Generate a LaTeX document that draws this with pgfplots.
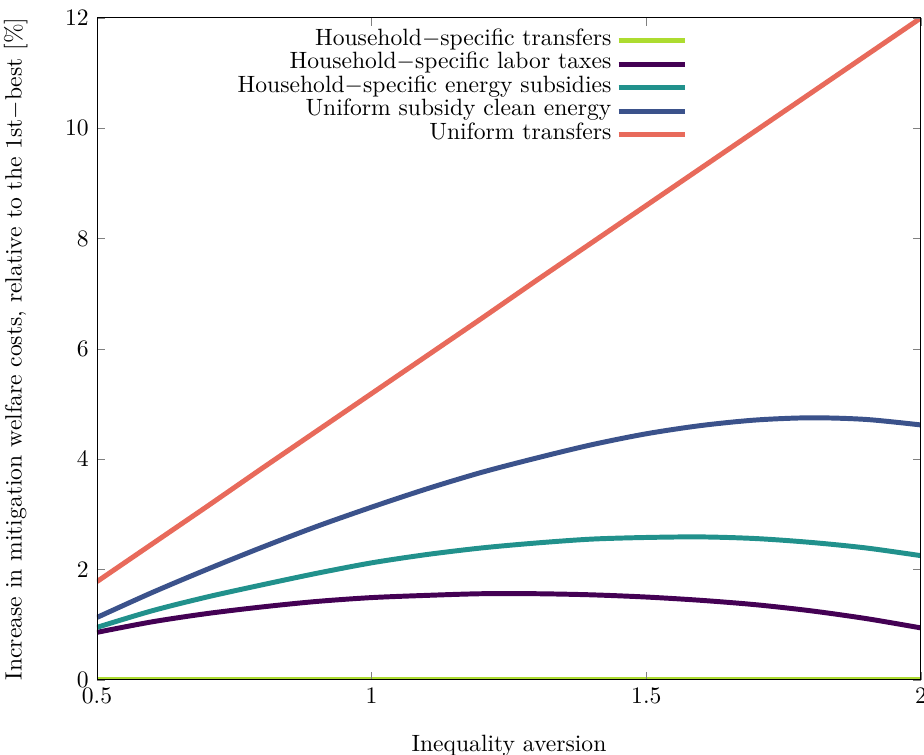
\documentclass[border=0pt]{standalone}
\usepackage{pgfplots}
\pgfplotsset{compat=1.18}
\definecolor{cgreen}{HTML}{ADDC30}
\definecolor{cpurple}{HTML}{440154}
\definecolor{cteal}{HTML}{21918C}
\definecolor{cblue}{HTML}{3B528B}
\definecolor{cred}{HTML}{E86A5B}
\begin{document}
\begin{tikzpicture}
\begin{axis}[name=ax, scale only axis, width=349.2pt, height=280.5pt,
  xmin=0.5, xmax=2, ymin=0, ymax=12,
  xtick={0.5,1,1.5,2}, ytick={0,2,4,6,8,10,12},
  tick align=inside, major tick length=3.4pt,
  axis on top,
  xlabel={Inequality aversion},
  ylabel={Increase in mitigation welfare costs, relative to the 1st$-$best [\%]},
  xlabel shift=6.6pt, ylabel shift=9pt,
  legend cell align=right, legend plot pos=right,
  legend style={draw=none, fill=none, at={(0.7168,0.984)}, anchor=north east,
    inner sep=0pt, row sep=0pt,
    nodes={inner ysep=0pt, text height=7pt, text depth=2.95pt}},
  legend image code/.code={\draw[#1,line width=2.1pt] (4.3pt,0pt) -- (32.3pt,0pt);},
  every axis plot/.append style={line width=2.1pt},
]
\addplot[cgreen] coordinates {(0.5,0) (2,0)};
\addlegendentry{Household$-$specific transfers}
\addplot[cpurple, smooth] coordinates {
(0.5,0.86) (0.6,1.05) (0.7,1.20) (0.8,1.32) (0.9,1.42) (1.0,1.49) (1.1,1.53) (1.2,1.56)
(1.3,1.56) (1.4,1.54) (1.5,1.50) (1.6,1.44) (1.7,1.36) (1.8,1.25) (1.9,1.11) (2.0,0.94)};
\addlegendentry{Household$-$specific labor taxes}
\addplot[cteal, smooth] coordinates {
(0.5,0.95) (0.6,1.25) (0.7,1.50) (0.8,1.72) (0.9,1.93) (1.0,2.12) (1.1,2.27) (1.2,2.39)
(1.3,2.48) (1.4,2.55) (1.5,2.58) (1.6,2.59) (1.7,2.56) (1.8,2.49) (1.9,2.39) (2.0,2.25)};
\addlegendentry{Household$-$specific energy subsidies}
\addplot[cblue, smooth] coordinates {
(0.5,1.13) (0.6,1.58) (0.7,2.00) (0.8,2.40) (0.9,2.78) (1.0,3.13) (1.1,3.46) (1.2,3.76)
(1.3,4.02) (1.4,4.26) (1.5,4.46) (1.6,4.61) (1.7,4.71) (1.8,4.75) (1.9,4.72) (2.0,4.62)};
\addlegendentry{Uniform subsidy clean energy}
\addplot[cred] coordinates {
(0.5,1.78) (0.6,2.46) (0.7,3.14) (0.8,3.83) (0.9,4.51) (1.0,5.19) (1.1,5.87) (1.2,6.55)
(1.3,7.24) (1.4,7.92) (1.5,8.60) (1.6,9.28) (1.7,9.96) (1.8,10.64) (1.9,11.32) (2.0,12.0)};
\addlegendentry{Uniform transfers}
\end{axis}
\pgfresetboundingbox
\useasboundingbox ([xshift=-41.1pt,yshift=-31.8pt]ax.south west) rectangle ([xshift=1.3pt,yshift=7.6pt]ax.north east);
\end{tikzpicture}
\end{document}
